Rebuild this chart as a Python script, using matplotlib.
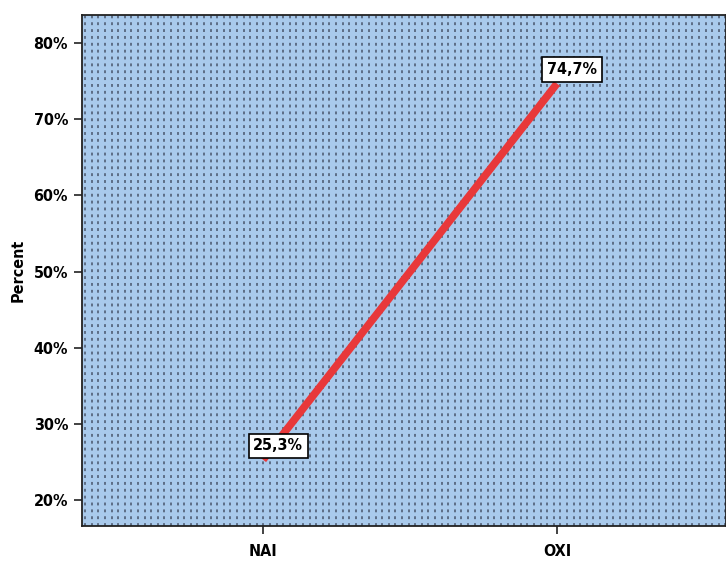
import matplotlib
matplotlib.use("Agg")
import matplotlib.pyplot as plt
import numpy as np
from matplotlib.ticker import FuncFormatter

categories = ["NAI", "OXI"]
values = [25.3, 74.7]
labels = ["25,3%", "74,7%"]
yticks = [20, 30, 40, 50, 60, 70, 80]

plt.rcParams['font.family'] = ['DejaVu Sans']
plt.rcParams['font.stretch'] = 'condensed'

fig = plt.figure(figsize=(7.26, 5.61), dpi=100)
W, H = 726, 561
ax = fig.add_axes([82 / W, 1 - 526 / H, (726 - 82) / W, (526 - 15) / H])
ax.set_facecolor('#a9caec')

x = np.arange(len(categories))
ax.set_xlim(-0.616, 1.575)
ax.set_ylim(16.6, 83.7)

# dotted background pattern
for xp in np.arange(0.005, 1.0, 6.6 / 644):
    ax.plot([xp, xp], [0, 1], transform=ax.transAxes, color='#56667e',
            lw=1.3, linestyle=(0, (1.6, 2.2)), zorder=1)

ax.plot(x, values, color='#e8383a', lw=5.5, solid_capstyle='butt', zorder=3)

fp = dict(fontsize=11.5, fontweight='bold', fontstretch='condensed')
for xi, v, lab in zip(x, values, labels):
    ax.annotate(lab, (xi, v), xytext=(11, 10), textcoords='offset points',
                ha='center', va='center', **fp,
                bbox=dict(boxstyle='square,pad=0.3', fc='white', ec='black', lw=1.2),
                zorder=5)

ax.set_xticks(x)
ax.set_xticklabels(categories, **fp)
ax.set_yticks(yticks)
ax.yaxis.set_major_formatter(FuncFormatter(lambda v, p: f"{int(v)}%"))
for t in ax.get_yticklabels():
    t.set_fontsize(11.5)
    t.set_fontweight('bold')
    t.set_fontstretch('condensed')
ax.tick_params(axis='both', length=6, width=1.2, color='#222222', pad=4)
ax.tick_params(axis='x', pad=7)
ax.set_ylabel("Percent", labelpad=6, **fp)
for s in ax.spines.values():
    s.set_color('#222222')
    s.set_linewidth(1.3)

fig.savefig("out.png", dpi=100)
